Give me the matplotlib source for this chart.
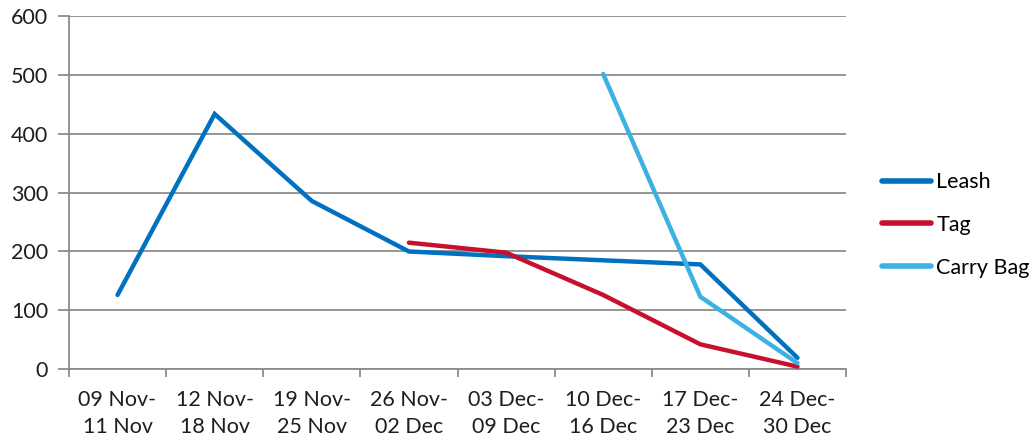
import matplotlib
matplotlib.use("Agg")
import matplotlib.pyplot as plt
from matplotlib.lines import Line2D
import numpy as np

plt.rcParams['font.family'] = ['Lato', 'DejaVu Sans']

categories = ["09 Nov-\n11 Nov", "12 Nov-\n18 Nov", "19 Nov-\n25 Nov", "26 Nov-\n02 Dec",
              "03 Dec-\n09 Dec", "10 Dec-\n16 Dec", "17 Dec-\n23 Dec", "24 Dec-\n30 Dec"]
leash = [126, 434, 286, 200, 192, 185, 178, 19]
tag = [None, None, None, 215, 198, 126, 42, 4]
carry_bag = [None, None, None, None, None, 502, 123, 10]

series = [("Leash", leash, "#0070C0"),
          ("Tag", tag, "#C8102E"),
          ("Carry Bag", carry_bag, "#3DB1E4")]

FS = 15.5
TXT = "#1e1e1e"
GRID = "#8c8c8c"

fig = plt.figure(figsize=(10.31, 4.41), dpi=100)
ax = fig.add_axes([0.0669, 0.1633, 0.7537, 0.7993])

x = np.arange(len(categories))
for name, vals, color in series:
    xs = [xi for xi, v in zip(x, vals) if v is not None]
    ys = [v for v in vals if v is not None]
    ax.plot(xs, ys, color=color, lw=3.2, solid_capstyle='round',
            solid_joinstyle='miter', label=name, zorder=3)

ax.set_xlim(-0.5, len(categories) - 0.5)
ax.set_ylim(0, 600)
ax.set_yticks(range(0, 601, 100))
ax.yaxis.grid(True, color=GRID, lw=1.3)
ax.set_axisbelow(True)

ax.set_xticks(x)
ax.set_xticklabels(categories, fontsize=FS, color=TXT, linespacing=1.45)
ax.set_xticks(np.arange(-0.5, len(categories)), minor=True)
ax.tick_params(axis='x', which='major', length=0, pad=15)
ax.tick_params(axis='x', which='minor', length=6, width=1.3, color=GRID, direction='out')
ax.tick_params(axis='y', length=8, width=1.3, color=GRID, labelsize=FS,
               labelcolor=TXT, pad=7)

for s in ['top', 'right']:
    ax.spines[s].set_visible(False)
for s in ['left', 'bottom']:
    ax.spines[s].set_color(GRID)
    ax.spines[s].set_linewidth(1.3)

handles = [Line2D([0], [0], color=c, lw=4, solid_capstyle='round') for _, _, c in series]
fig.legend(handles, [n for n, _, _ in series], loc='center left',
           bbox_to_anchor=(0.855, 0.49), frameon=False, fontsize=FS,
           handlelength=2.3, handletextpad=0.25, labelspacing=1.05,
           borderaxespad=0, borderpad=0)

fig.savefig("out.png", dpi=100)
